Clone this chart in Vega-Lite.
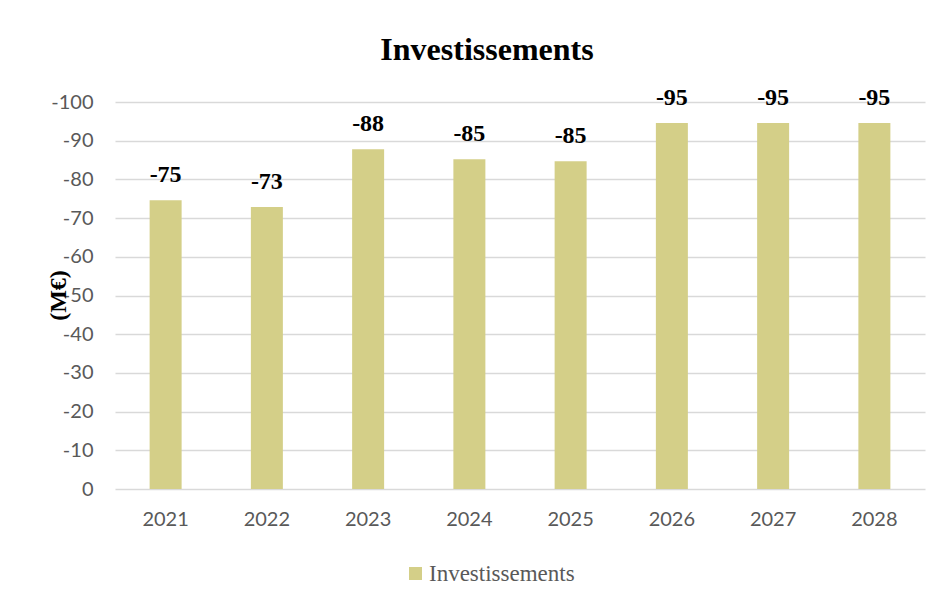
{
  "$schema": "https://vega.github.io/schema/vega-lite/v6.json",
  "autosize": {"type": "none"},
  "width": 810,
  "height": 387,
  "padding": {"left": 115, "top": 102, "right": 27, "bottom": 112},
  "background": "white",
  "title": {
    "text": "Investissements",
    "font": "Liberation Serif",
    "fontSize": 32,
    "fontWeight": "bold",
    "color": "#000000",
    "anchor": "middle",
    "dx": -33,
    "offset": 19
  },
  "data": {
    "values": [
      {"annee": "2021", "valeur": -74.6, "serie": "Investissements"},
      {"annee": "2022", "valeur": -72.9, "serie": "Investissements"},
      {"annee": "2023", "valeur": -87.8, "serie": "Investissements"},
      {"annee": "2024", "valeur": -85.2, "serie": "Investissements"},
      {"annee": "2025", "valeur": -84.7, "serie": "Investissements"},
      {"annee": "2026", "valeur": -94.6, "serie": "Investissements"},
      {"annee": "2027", "valeur": -94.6, "serie": "Investissements"},
      {"annee": "2028", "valeur": -94.6, "serie": "Investissements"}
    ]
  },
  "encoding": {
    "x": {
      "field": "annee",
      "type": "nominal",
      "sort": null,
      "scale": {"paddingInner": 0.684, "paddingOuter": 0.342},
      "axis": {
        "title": null,
        "labelAngle": 0,
        "domain": false,
        "ticks": false,
        "labelFont": "Lato",
        "labelFontSize": 20,
        "labelColor": "#595959",
        "labelPadding": 20,
        "grid": false
      }
    },
    "y": {
      "field": "valeur",
      "type": "quantitative",
      "scale": {"domain": [0, -100], "nice": false},
      "axis": {
        "title": "(M€)",
        "titleFont": "Liberation Serif",
        "titleFontSize": 24,
        "titleFontWeight": "bold",
        "titleColor": "#000000",
        "titleX": -57,
        "titleY": 193,
        "titleAlign": "center",
        "titleBaseline": "middle",
        "titleAngle": -90,
        "values": [0, -10, -20, -30, -40, -50, -60, -70, -80, -90, -100],
        "labelExpr": "toString(datum.value)",
        "domain": false,
        "ticks": false,
        "labelFont": "Lato",
        "labelFontSize": 20,
        "labelColor": "#595959",
        "labelPadding": 22,
        "grid": true,
        "gridColor": "#d9d9d9",
        "gridWidth": 1.5
      }
    }
  },
  "layer": [
    {
      "mark": {"type": "bar", "size": 32},
      "encoding": {
        "color": {
          "field": "serie",
          "type": "nominal",
          "scale": {"range": ["#D4CF88"]},
          "legend": {
            "title": null,
            "orient": "none",
            "direction": "horizontal",
            "legendX": 289,
            "legendY": 460,
            "symbolType": "square",
            "symbolSize": 169,
            "symbolStrokeWidth": 0,
            "labelFont": "Liberation Serif",
            "labelFontSize": 23,
            "labelColor": "#595959",
            "labelOffset": 2
          }
        }
      }
    },
    {
      "mark": {
        "type": "text",
        "font": "Liberation Serif",
        "fontSize": 24,
        "fontWeight": "bold",
        "color": "#000000",
        "baseline": "alphabetic",
        "dy": -18,
        "text": {"expr": "toString(round(datum.valeur))"}
      },
      "encoding": {}
    }
  ],
  "config": {
    "view": {"stroke": null}
  }
}
